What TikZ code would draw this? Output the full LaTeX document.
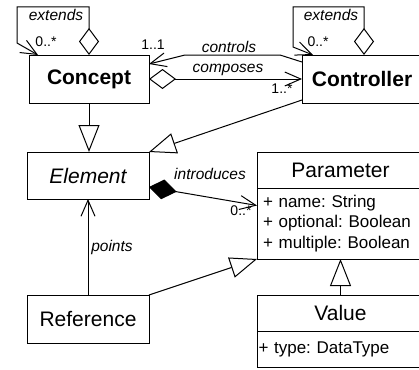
\documentclass[tikz,border=0pt]{standalone}
\usepackage{fontspec}
\setmainfont{Liberation Sans}
\frenchspacing
\usetikzlibrary{arrows.meta,positioning}
\tikzset{
    barb/.tip={Straight Barb[length=16pt,width=14pt,line width=1pt]},
    gen/.tip={Triangle[open,length=27pt,width=21pt,line width=1pt]},
    odiam/.tip={Diamond[open,length=27pt,width=20pt,line width=1pt]},
    fdiam/.tip={Diamond[length=28pt,width=20pt,line width=1pt]},
    umlbox/.style={draw, line width=1pt, inner sep=0pt, outer sep=0pt,
        font=\fontsize{21}{25}\selectfont},
    attrbox/.style={umlbox, align=left, font=\fontsize{17}{20.5}\selectfont},
    rel/.style={line width=1pt},
    lbl/.style={inner sep=0pt, font=\fontsize{15.5}{18}\selectfont\itshape},
    mult/.style={inner sep=0pt, font=\fontsize{14}{16}\selectfont}
}

\begin{document}
\begin{tikzpicture}[x=1pt,y=-1pt]
    \path[use as bounding box, clip] (0,0) rectangle (419,369);

    % Draw class boxes.
    \node[umlbox, font=\fontsize{21}{25}\selectfont\bfseries,
        minimum width=120pt, minimum height=48pt] (concept) at (89,79) {Concept};
    \node[umlbox, font=\fontsize{21}{25}\selectfont\bfseries,
        minimum width=120pt, minimum height=48pt] (controller) at (362,79) {Controller};
    \node[umlbox, font=\fontsize{21}{25}\selectfont\itshape,
        minimum width=122pt, minimum height=47pt] (element) at (88,175.5) {Element};
    \node[umlbox, minimum width=122pt, minimum height=48pt] (reference) at (88,319) {Reference};

    \node[umlbox, minimum width=167pt, minimum height=36pt] (paramhead) at (340.5,170) {Parameter};
    \node[attrbox, below=0pt of paramhead, minimum width=167pt, minimum height=71pt,
        inner xsep=6pt, text width=155pt] (paramattr)
        {+ name: String\\+ optional: Boolean\\+ multiple: Boolean};

    \node[umlbox, minimum width=167pt, minimum height=36pt] (valuehead) at (340.5,313) {Value};
    \node[attrbox, below=0pt of valuehead, minimum width=167pt, minimum height=36pt,
        inner xsep=1.5pt, text width=164pt] (valueattr) {+ type: DataType};

    % Draw self associations.
    \draw[rel, odiam-barb] (concept.north) -- ++(0,-48) -| (17,43)
        -- ([xshift=9pt]concept.north west);
    \draw[rel, odiam-barb] ([xshift=62pt]controller.north west) -- ++(0,-48) -| (293,47)
        -- ([xshift=11pt]controller.north west);

    % Draw associations between concept and controller.
    \draw[rel, -barb] ([yshift=-7pt]controller.north west) -- (280,55) -- (185,55)
        -- ([yshift=-9pt]concept.north east);
    \draw[rel, odiam-barb] (concept.east) -- (controller.west);

    % Draw generalizations.
    \draw[rel, -gen] (concept.south) -- (concept.south |- element.north);
    \draw[rel, -gen] ([yshift=3pt]controller.south west) -- (element.north east);
    \draw[rel, -gen] (reference.north east) -- (paramattr.south west);
    \draw[rel, -gen] (valuehead.north) -- (paramattr.south);

    % Draw remaining associations.
    \draw[rel, fdiam-barb] ([yshift=-11.5pt]element.east) -- ([yshift=18pt]paramattr.west);
    \draw[rel, -barb] (reference.north) -- (element.south);

    % Draw labels.
    \node[lbl] (extconcept) at (56,15) {extends};
    \node[mult] (multconcept) at (46,42) {0..*};
    \node[lbl] (extcontroller) at (331,15) {extends};
    \node[mult] (multcontroller) at (318,42) {0..*};
    \node[lbl] (controls) at (229,47) {controls};
    \node[mult] (multcontrols) at (153,45) {1..1};
    \node[lbl] (composes) at (228,70) {composes};
    \node[mult] (multcomposes) at (282,89) {1..*};
    \node[lbl] (introduces) at (210,174) {introduces};
    \node[mult] (multintroduces) at (241,211) {0..*};
    \node[lbl] (points) at (112,247) {points};
\end{tikzpicture}
\end{document}
